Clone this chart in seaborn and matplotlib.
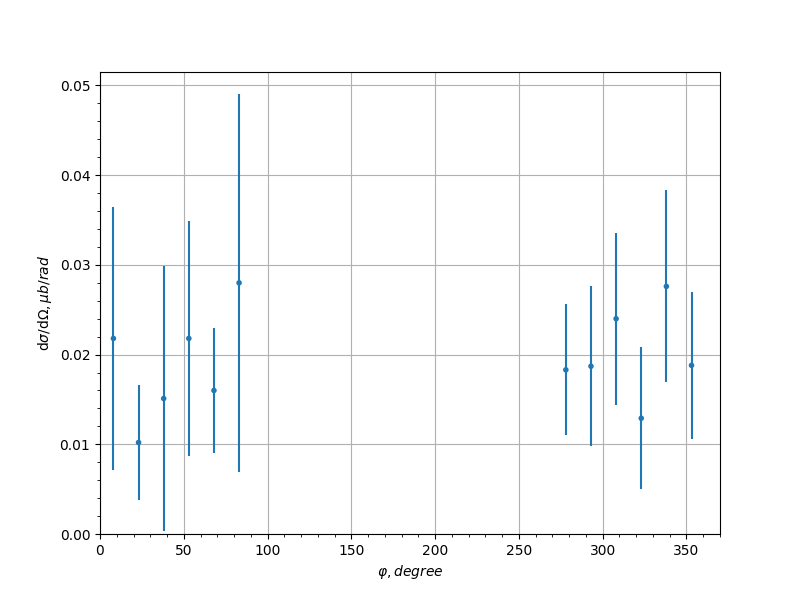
import matplotlib
matplotlib.use("Agg")
import matplotlib.pyplot as plt
from matplotlib.ticker import MultipleLocator
import seaborn as sns
import pandas as pd

phi = [8, 23, 38, 53, 68, 83, 278, 293, 308, 323, 338, 353]
xsec = [0.0218, 0.0102, 0.0151, 0.0218, 0.0160, 0.0280, 0.0183, 0.0187, 0.0240, 0.0129, 0.0276, 0.0188]
err = [0.0147, 0.0064, 0.0148, 0.0131, 0.0070, 0.0211, 0.0073, 0.0089, 0.0096, 0.0079, 0.0107, 0.0082]

df = pd.DataFrame({"phi": phi, "xsec": xsec, "err": err})

fig, ax = plt.subplots(figsize=(8, 6), dpi=100)
ax.errorbar(df["phi"], df["xsec"], yerr=df["err"], fmt="none", ecolor="#1f77b4", elinewidth=1.5, zorder=2)
sns.scatterplot(data=df, x="phi", y="xsec", ax=ax, color="#1f77b4", s=16, edgecolor="none", zorder=3)

ax.set_xlim(0, 370)
ax.set_ylim(0, 0.0515)
ax.set_yticks([0, 0.01, 0.02, 0.03, 0.04, 0.05])
ax.xaxis.set_minor_locator(MultipleLocator(10))
ax.yaxis.set_minor_locator(MultipleLocator(0.002))
ax.grid(True, which="major", color="#b0b0b0", linewidth=0.8)
ax.set_axisbelow(True)
ax.set_xlabel(r"$\varphi, degree$")
ax.set_ylabel(r"d$\sigma$/d$\Omega, \mu b/rad$")

fig.savefig("out.png", dpi=100)
